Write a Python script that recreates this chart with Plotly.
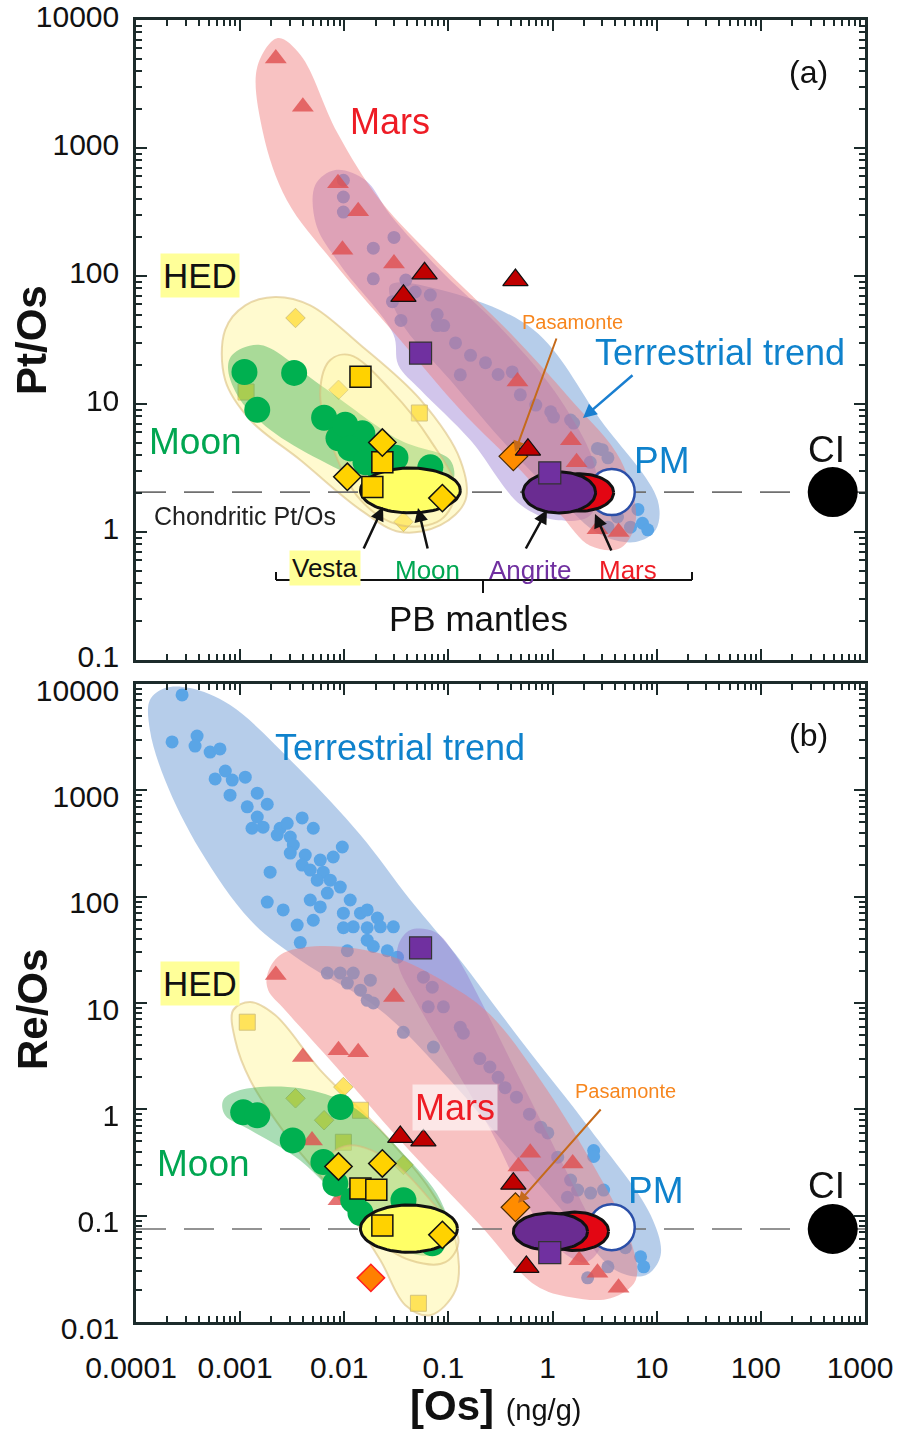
import math
import plotly.graph_objects as go

# ======================= DATA =======================
# ---- panel (a): Pt/Os vs [Os] ----
terr_a_os = [0.0098, 0.0098, 0.0098, 0.019, 0.030, 0.019, 0.039, 0.048, 0.067, 0.029, 0.078, 0.078, 0.090,
             0.035, 0.117, 0.163, 0.227, 0.30, 0.41, 0.49, 0.69, 0.96, 1.02, 1.49, 1.59, 2.7, 3.0, 2.3, 3.4,
             3.6, 5.3, 6.6, 7.3, 8.2, 5.6, 4.2, 3.4, 0.13]
terr_a_ptos = [560, 414, 316, 165, 200, 95, 93, 75, 71, 63, 50, 41, 41, 45, 30, 24, 21, 17, 17.8, 11.8,
               9.8, 8.7, 7.9, 7.5, 7.1, 4.5, 4.4, 3.5, 3.8, 1.7, 1.9, 1.5, 1.17, 1.04, 1.09, 1.31, 1.09, 16.9]
mars_a_os = [0.0022, 0.004, 0.0087, 0.0136, 0.0096, 0.030, 0.46, 1.5, 1.7, 2.7, 4.3]
mars_a_ptos = [5000, 2100, 530, 320, 160, 125, 15, 5.2, 3.5, 1.05, 1.0]
marsd_a_os = [0.059, 0.037, 0.44, 0.58]
marsd_a_ptos = [105, 70, 93, 4.4]
moon_a_os = [0.0011, 0.0033, 0.00146, 0.0064, 0.0088, 0.0149, 0.0102, 0.0114, 0.0186, 0.016, 0.022, 0.031, 0.039, 0.067]
moon_a_ptos = [17.8, 17.5, 9.0, 7.8, 5.4, 5.9, 6.9, 4.5, 4.2, 3.5, 3.05, 3.8, 2.5, 3.2]
hed_sq_a_os = [0.0143, 0.0232, 0.0186]
hed_sq_a_ptos = [16.3, 3.5, 2.25]
hed_di_a_os = [0.0232, 0.0107, 0.0875]
hed_di_a_ptos = [5.0, 2.7, 1.84]
hedf_sq_a_os = [0.00114, 0.0526]
hedf_sq_a_ptos = [12.4, 8.5]
hedf_di_a_os = [0.0034, 0.0088, 0.037]
hedf_di_a_ptos = [47, 12.9, 1.2]
ang_a_os = [0.054, 0.94]
ang_a_ptos = [25, 2.9]
pas_a_os = [0.42]
pas_a_ptos = [3.9]

# ---- panel (b): Re/Os vs [Os] ----
terr_b_os = [2.77e-4, 2.22e-4, 3.86e-4, 3.69e-4, 5.15e-4, 6.4e-4, 7.2e-4, 5.75e-4, 8.4e-4, 1.12e-3,
             8.0e-4, 1.46e-3, 1.17e-3, 1.82e-3, 1.46e-3, 1.30e-3, 1.66e-3, 2.42e-3, 2.83e-3, 3.94e-3,
             5.04e-3, 2.27e-3, 3.03e-3, 3.24e-3, 3.03e-3, 4.22e-3, 5.88e-3, 7.83e-3, 9.57e-3, 3.94e-3,
             4.71e-3, 6.28e-3, 5.5e-3, 7.34e-3, 6.87e-3, 9.15e-3, 1.94e-3, 1.82e-3, 2.59e-3, 4.71e-3,
             5.88e-3, 0.0114, 0.0098, 0.0143, 0.0166, 0.0208, 0.0122, 0.0166, 0.0222, 0.0296,
             0.0098, 3.53e-3, 5.04e-3, 0.0259, 0.0324, 0.0166, 0.019, 0.0107, 3.78e-3, 0.0575,
             0.070, 0.064, 0.0895, 6.87e-3, 9.15e-3, 0.0122, 0.0107, 0.0178, 0.0143, 0.019,
             0.0166, 0.130, 0.139, 0.0369, 0.0718, 0.20, 0.25, 0.30, 0.35, 0.45,
             0.60, 0.77, 0.90, 1.12, 1.49, 1.74, 2.32, 3.09, 1.39, 2.48,
             2.48, 7.0, 7.5, 3.4, 2.17, 5.0]
terr_b_reos = [7900, 2850, 3240, 2610, 2290, 2450, 1520, 1280, 1250, 1330,
               900, 940, 700, 740, 560, 440, 450, 440, 490, 550,
               440, 380, 364, 306, 257, 246, 221, 236, 293, 198,
               178, 170, 143, 143, 108, 123, 170, 89, 75, 93,
               80, 93, 70, 70, 75, 63, 52, 51, 52, 52,
               51, 54, 60, 31, 27, 39, 34, 31, 37, 17.5,
               14.1, 9.2, 9.2, 19.1, 19.1, 19.1, 15.4, 16.4, 13.2, 10.0,
               10.6, 5.9, 5.2, 5.3, 3.85, 3.0, 2.5, 2.0, 1.6, 1.3,
               0.9, 0.68, 0.60, 0.355, 0.216, 0.174, 0.163, 0.174, 0.149, 0.41,
               0.36, 0.041, 0.033, 0.033, 0.026, 0.05]
mars_b_os = [0.0022, 0.030, 0.004, 0.0088, 0.0136, 0.0049, 0.0088, 0.61, 0.47, 1.56, 1.8, 2.7, 4.3]
mars_b_reos = [18.3, 11.4, 3.1, 3.6, 3.45, 0.51, 0.14, 0.39, 0.29, 0.31, 0.038, 0.029, 0.021]
marsd_b_os = [0.0345, 0.0575, 0.42, 0.56]
marsd_b_reos = [0.55, 0.51, 0.20, 0.033]
moon_b_os = [0.00107, 0.00146, 0.0032, 0.0092, 0.0063, 0.0082, 0.0143, 0.0122, 0.037, 0.030, 0.070]
moon_b_reos = [0.94, 0.88, 0.51, 1.05, 0.32, 0.20, 0.106, 0.14, 0.14, 0.085, 0.055]
hed_sq_b_os = [0.0143, 0.0203, 0.0232]
hed_sq_b_reos = [0.18, 0.175, 0.081]
hed_di_b_os = [0.0088, 0.0232, 0.0875]
hed_di_b_reos = [0.29, 0.31, 0.066]
hedf_sq_b_os = [0.00117, 0.0143, 0.0098, 0.0515]
hedf_sq_b_reos = [6.6, 0.98, 0.49, 0.015]
hedf_di_b_os = [0.0034, 0.0098, 0.0064, 0.037]
hedf_di_b_reos = [1.27, 1.62, 0.79, 0.30]
other_b_os = [0.018]
other_b_reos = [0.026]
ang_b_os = [0.054, 0.94]
ang_b_reos = [33, 0.045]
pas_b_os = [0.44]
pas_b_reos = [0.12]

# reference reservoirs
pm_os = [3.7]
pm_ptos = [2.05]
pm_reos = [0.078]
ci_os = [490]
ci_ptos = [2.05]
ci_reos = [0.075]
chond_ptos = 2.05
chond_reos = 0.075

# PB mantle estimates (ranges): Mars, Angrite, Vesta/Moon
mantle_names = ["Mars", "Angrite", "Vesta-Moon"]
mantle_os_lo_a = [0.86, 0.52, 0.0143]
mantle_os_hi_a = [3.86, 2.59, 0.130]
mantle_ptos_lo = [1.45, 1.41, 1.41]
mantle_ptos_hi = [2.85, 2.94, 3.16]
mantle_os_lo_b = [0.77, 0.42, 0.0143]
mantle_os_hi_b = [3.45, 2.17, 0.122]
mantle_reos_lo = [0.047, 0.0473, 0.0453]
mantle_reos_hi = [0.108, 0.106, 0.126]

# field envelopes (outline of each compositional field)
env_terr_a_os = [0.0277, 0.0838, 0.656, 2.89, 10.2, 9.78, 6.28, 2.89, 1.19, 0.394, 0.104, 0.0345]
env_terr_a_ptos = [85, 78, 38, 7.5, 1.78, 1.04, 0.835, 0.95, 1.78, 4.4, 15.4, 45]
env_mars_a_os = [0.0023, 0.0038, 0.0086, 0.022, 0.084, 0.39, 1.5, 4.5, 6.3, 4.5, 2.3, 1.2, 0.49, 0.13, 0.0345, 0.0078, 0.0028, 0.00166, 0.00146]
env_mars_a_ptos = [7230, 5330, 1310, 392, 122, 36, 10.8, 3.65, 1.24, 0.75, 0.78, 1.36, 3.05, 9.0, 31.6, 129, 392, 1310, 4290]
env_ang_a_os = [0.00526, 0.00819, 0.0159, 0.0277, 0.0838, 0.353, 1.19, 2.59, 2.32, 1.07, 0.492, 0.163, 0.0538, 0.033, 0.0296, 0.00915, 0.00538]
env_ang_a_ptos = [514, 673, 562, 300, 111, 35.9, 10.8, 3.05, 1.36, 1.24, 1.63, 5.2, 12.9, 20.2, 35, 122, 250]
env_hed_a_os = [0.000718, 0.00112, 0.00217, 0.00471, 0.0143, 0.0538, 0.130, 0.146, 0.0838, 0.0345, 0.0143, 0.00378, 0.00125, 0.000718]
env_hed_a_ptos = [38, 59, 68.6, 59, 28.9, 10.8, 3.65, 1.78, 1.13, 1.0, 1.49, 3.65, 7.5, 15.4]
env_hedin_a_os = [0.00734, 0.0114, 0.0277, 0.0671, 0.117, 0.0838, 0.0345, 0.0143, 0.00734, 0.00588]
env_hedin_a_ptos = [22.1, 24.1, 12.9, 5.2, 2.13, 1.24, 1.13, 1.78, 5.2, 12.9]
env_moon_a_os = [0.000837, 0.00156, 0.00588, 0.0345, 0.104, 0.109, 0.0538, 0.0178, 0.00588, 0.00194, 0.0010, 0.000767]
env_moon_a_ptos = [24.1, 28.9, 14.1, 5.2, 3.65, 2.46, 2.25, 2.46, 3.65, 6.3, 10.8, 18.4]

env_terr_b_os = [1.36e-4, 1.90e-4, 3.30e-4, 8.02e-4, 3.78e-3, 0.0143, 0.0431, 0.130, 0.492, 2.32, 8.76, 10.9,
                 7.84, 4.03, 1.49, 0.394, 0.104, 0.0222, 3.78e-3, 1.25e-3, 4.12e-4, 1.90e-4, 1.36e-4]
env_terr_b_reos = [7070, 9170, 9170, 6340, 1550, 380, 92.9, 25.3, 4.48, 0.64, 0.101, 0.0425,
                   0.0275, 0.0307, 0.091, 0.41, 1.88, 8.57, 25.3, 60.2, 274, 1250, 3690]
env_mars_b_os = [0.00182, 0.00242, 0.00588, 0.0277, 0.104, 0.254, 0.767, 2.32, 5.62, 6.28, 3.61, 1.49, 0.686, 0.203, 0.0345, 0.00734, 0.00271, 0.00186]
env_mars_b_reos = [18.3, 28.2, 34.3, 27.6, 14.7, 7.7, 1.88, 0.33, 0.0588, 0.0247, 0.0167, 0.0171, 0.0222, 0.081, 0.51, 2.9, 8.57, 13.2]
env_ang_b_os = [0.033, 0.0431, 0.075, 0.117, 0.203, 0.394, 0.857, 1.86, 2.89, 2.08, 1.19, 0.614, 0.254, 0.104, 0.0482, 0.033]
env_ang_b_reos = [35.1, 48.5, 46.4, 28.2, 10.6, 2.9, 0.64, 0.14, 0.0527, 0.0365, 0.0473, 0.113, 0.64, 2.9, 10.6, 22.7]
env_hed_b_os = [0.000857, 0.00125, 0.00217, 0.00588, 0.0222, 0.0671, 0.117, 0.117, 0.0671, 0.0386, 0.0222, 0.00915, 0.00303, 0.00125, 0.000896]
env_hed_b_reos = [8.57, 10.2, 7.7, 2.34, 0.64, 0.174, 0.0588, 0.0199, 0.0116, 0.0144, 0.0381, 0.14, 0.51, 1.88, 4.48]
env_hedin_b_os = [0.00734, 0.0114, 0.0277, 0.0671, 0.125, 0.0936, 0.0431, 0.0178, 0.00915, 0.00701]
env_hedin_b_reos = [0.37, 0.46, 0.33, 0.14, 0.0588, 0.0365, 0.0381, 0.0655, 0.14, 0.24]
env_moon_b_os = [0.000687, 0.0010, 0.00378, 0.0114, 0.0345, 0.0838, 0.104, 0.0671, 0.0277, 0.0114, 0.00378, 0.00125, 0.000718]
env_moon_b_reos = [1.22, 1.52, 1.58, 1.09, 0.41, 0.14, 0.0588, 0.0425, 0.0527, 0.113, 0.33, 0.64, 0.88]

x_tick_vals = [1e-4, 1e-3, 1e-2, 1e-1, 1, 10, 100, 1000]
x_tick_text = ["0.0001", "0.001", "0.01", "0.1", "1", "10", "100", "1000"]
ya_tick_vals = [0.1, 1, 10, 100, 1000, 10000]
ya_tick_text = ["0.1", "1", "10", "100", "1000", "10000"]
yb_tick_vals = [0.01, 0.1, 1, 10, 100, 1000, 10000]
yb_tick_text = ["0.01", "0.1", "1", "10", "100", "1000", "10000"]

# ======================= STYLE =======================
FONT = "Liberation Sans, Arial, Helvetica, sans-serif"
RED = "#ee1c25"
GREEN = "#00a651"
BLUE = "#0f82cc"
PURPLE = "#7030a0"
ORANGE = "#f7861e"
AXC = "#1c2b2b"

C_TERR_ENV = "rgba(80,135,205,0.42)"
C_MARS_ENV = "rgba(240,120,120,0.45)"
C_ANG_ENV = "rgba(140,110,205,0.40)"
C_HED_ENV = "rgba(255,242,140,0.42)"
C_HED_LINE = "rgba(215,185,120,0.55)"
C_MOON_ENV = "rgba(40,170,70,0.40)"

fig = go.Figure()
PANELS = {"a": ("x", "y"), "b": ("x2", "y2")}


def add(tr, panel):
    xa, ya = PANELS[panel]
    tr.update(xaxis=xa, yaxis=ya, showlegend=False, hoverinfo="skip")
    fig.add_trace(tr)


def envelope(xs, ys, fill, panel, line="rgba(0,0,0,0)", lw=0):
    add(go.Scatter(x=xs + xs[:1], y=ys + ys[:1], mode="lines", fill="toself", fillcolor=fill,
                   line=dict(color=line, width=lw, shape="spline", smoothing=1.0)), panel)


def ellipse(xlo, xhi, ylo, yhi, n=80):
    cx = (math.log10(xlo) + math.log10(xhi)) / 2
    rx = (math.log10(xhi) - math.log10(xlo)) / 2
    cy = (math.log10(ylo) + math.log10(yhi)) / 2
    ry = (math.log10(yhi) - math.log10(ylo)) / 2
    xs = [10 ** (cx + rx * math.cos(2 * math.pi * i / n)) for i in range(n + 1)]
    ys = [10 ** (cy + ry * math.sin(2 * math.pi * i / n)) for i in range(n + 1)]
    return xs, ys


def markers(xs, ys, panel, symbol, size, color, lc="rgba(0,0,0,0)", lw=0, opacity=1.0):
    add(go.Scatter(x=xs, y=ys, mode="markers", opacity=opacity,
                   marker=dict(symbol=symbol, size=size, color=color, line=dict(color=lc, width=lw))), panel)


def draw_panel(p, terr, env_terr, env_ang, env_mars, env_hed, env_moon, env_hedin,
               mars, marsd, moon, hedsq, heddi, hedfsq, hedfdi, ang, pas, pm, ci, chond,
               m_os_lo, m_os_hi, m_r_lo, m_r_hi):
    envelope(env_terr[0], env_terr[1], C_TERR_ENV, p)
    markers(terr[0], terr[1], p, "circle", 13, "#4a9de6", opacity=0.85)
    envelope(env_ang[0], env_ang[1], C_ANG_ENV, p)
    envelope(env_mars[0], env_mars[1], C_MARS_ENV, p)
    envelope(env_hed[0], env_hed[1], C_HED_ENV, p, C_HED_LINE, 2)
    markers(hedfsq[0], hedfsq[1], p, "square", 16, "#ffde3c", "#c9b56a", 1, opacity=0.8)
    markers(hedfdi[0], hedfdi[1], p, "diamond", 15, "#ffde3c", "#c9b56a", 1, opacity=0.8)
    envelope(env_moon[0], env_moon[1], C_MOON_ENV, p)
    envelope(env_hedin[0], env_hedin[1], "rgba(255,245,160,0.35)", p, C_HED_LINE, 2)
    add(go.Scatter(x=[1e-4, 1e3], y=[chond, chond], mode="lines",
                   line=dict(color="#707070", width=1.6, dash="30px,18px")), p)
    markers(mars[0], mars[1], p, "triangle-up", 19, "#df4f4f", opacity=0.8)
    markers(moon[0], moon[1], p, "circle", 26, "#00b050")
    # PB mantle ellipses and reference reservoirs
    markers(pm[0], pm[1], p, "circle", 46, "white", "#2b4fa8", 2.5)
    fills = ["#e30613", "#6a2c91", "#ffff66"]
    for i in range(3):
        ex, ey = ellipse(m_os_lo[i], m_os_hi[i], m_r_lo[i], m_r_hi[i])
        add(go.Scatter(x=ex, y=ey, mode="lines", fill="toself", fillcolor=fills[i],
                       line=dict(color="#111111", width=3)), p)
    markers(hedsq[0], hedsq[1], p, "square", 21, "#ffd200", "#111111", 1.5)
    markers(heddi[0], heddi[1], p, "diamond", 21, "#ffd200", "#111111", 1.5)
    markers(ang[0], ang[1], p, "square", 22, PURPLE, "#333333", 1.2)
    markers(pas[0], pas[1], p, "diamond", 22, "#ff8c00", "#4a2a00", 1.2)
    markers(marsd[0], marsd[1], p, "triangle-up", 22, "#c00000", "#111111", 1.2)
    markers(ci[0], ci[1], p, "circle", 50, "#000000")


draw_panel("a", (terr_a_os, terr_a_ptos), (env_terr_a_os, env_terr_a_ptos), (env_ang_a_os, env_ang_a_ptos),
           (env_mars_a_os, env_mars_a_ptos), (env_hed_a_os, env_hed_a_ptos), (env_moon_a_os, env_moon_a_ptos),
           (env_hedin_a_os, env_hedin_a_ptos), (mars_a_os, mars_a_ptos), (marsd_a_os, marsd_a_ptos),
           (moon_a_os, moon_a_ptos), (hed_sq_a_os, hed_sq_a_ptos), (hed_di_a_os, hed_di_a_ptos),
           (hedf_sq_a_os, hedf_sq_a_ptos), (hedf_di_a_os, hedf_di_a_ptos), (ang_a_os, ang_a_ptos),
           (pas_a_os, pas_a_ptos), (pm_os, pm_ptos), (ci_os, ci_ptos), chond_ptos,
           mantle_os_lo_a, mantle_os_hi_a, mantle_ptos_lo, mantle_ptos_hi)

draw_panel("b", (terr_b_os, terr_b_reos), (env_terr_b_os, env_terr_b_reos), (env_ang_b_os, env_ang_b_reos),
           (env_mars_b_os, env_mars_b_reos), (env_hed_b_os, env_hed_b_reos), (env_moon_b_os, env_moon_b_reos),
           (env_hedin_b_os, env_hedin_b_reos), (mars_b_os, mars_b_reos), (marsd_b_os, marsd_b_reos),
           (moon_b_os, moon_b_reos), (hed_sq_b_os, hed_sq_b_reos), (hed_di_b_os, hed_di_b_reos),
           (hedf_sq_b_os, hedf_sq_b_reos), (hedf_di_b_os, hedf_di_b_reos), (ang_b_os, ang_b_reos),
           (pas_b_os, pas_b_reos), (pm_os, pm_reos), (ci_os, ci_reos), chond_reos,
           mantle_os_lo_b, mantle_os_hi_b, mantle_reos_lo, mantle_reos_hi)
markers(other_b_os, other_b_reos, "b", "diamond", 21, "#ff8000", "#ff2020", 1.5)

# ======================= LAYOUT =======================
L, R, T, B = 136, 33, 20, 110
W, H = 898, 1432
PW, PH = W - L - R, H - T - B


def P(px, py):
    return (px - L) / PW, (H - B - py) / PH


def minor_vals(k0, k1):
    return [m * 10 ** k for k in range(k0, k1) for m in range(2, 10)]


def axis_common():
    return dict(type="log", showline=True, linewidth=2.5, linecolor=AXC, mirror="allticks",
                ticks="inside", ticklen=11, tickwidth=2, tickcolor=AXC, showgrid=False, zeroline=False,
                automargin=False, ticklabeloverflow="allow",
                tickfont=dict(family=FONT, size=30, color="#111111"))


xa = axis_common()
xa.update(range=[-4, 3], tickvals=x_tick_vals, ticktext=x_tick_text, anchor="y", domain=[0, 1],
          showticklabels=False,
          minor=dict(tickmode="array", tickvals=minor_vals(-4, 3), ticks="inside", ticklen=6,
                     tickwidth=1.5, tickcolor=AXC, showgrid=False))
xb = dict(xa)
xb.update(anchor="y2", showticklabels=True, ticklabelstandoff=17, ticklabelshift=-5)
ya = axis_common()
ya.update(range=[-1, 4], tickvals=ya_tick_vals, ticktext=ya_tick_text, anchor="x",
          domain=[(H - B - 660) / PH, 1], ticklabelstandoff=8, ticklabelshift=-4,
          minor=dict(tickmode="array", tickvals=minor_vals(-1, 4), ticks="inside", ticklen=6,
                     tickwidth=1.5, tickcolor=AXC, showgrid=False))
yb = axis_common()
yb.update(range=[-2, 4], tickvals=yb_tick_vals, ticktext=yb_tick_text, anchor="x2",
          domain=[0, (H - B - 684) / PH], ticklabelstandoff=8, ticklabelshift=6,
          minor=dict(tickmode="array", tickvals=minor_vals(-2, 4), ticks="inside", ticklen=6,
                     tickwidth=1.5, tickcolor=AXC, showgrid=False))

fig.update_layout(width=W, height=H, margin=dict(l=L, r=R, t=T, b=B, autoexpand=False),
                  paper_bgcolor="white", plot_bgcolor="white",
                  xaxis=xa, xaxis2=xb, yaxis=ya, yaxis2=yb,
                  font=dict(family=FONT), showlegend=False)

ann = []


def text(s, px, py, size, color="#111111", bg=None, angle=0):
    x, y = P(px, py)
    d = dict(text=s, x=x, y=y, xref="paper", yref="paper", showarrow=False, xanchor="center",
             yanchor="middle", font=dict(family=FONT, size=size, color=color), textangle=angle)
    if bg:
        d.update(bgcolor=bg, borderpad=2)
    ann.append(d)


def arrow(hx, hy, tx, ty, color, width=2.5):
    x, y = P(hx, hy)
    ann.append(dict(text="", x=x, y=y, xref="paper", yref="paper", showarrow=True, ax=tx - hx, ay=ty - hy,
                    arrowhead=2, arrowsize=1.1, arrowwidth=width, arrowcolor=color))


# panel (a) labels
text("Mars", 390, 122, 36, RED)
text("(a)", 808, 72, 32)
text("HED", 200, 275, 35, bg="#ffff99")
text("Moon", 195, 442, 37, GREEN)
text("Chondritic Pt/Os", 245, 516, 25, "#222222")
text("Pasamonte", 572, 322, 20, ORANGE)
text("Terrestrial trend", 720, 353, 36, BLUE)
text("PM", 662, 460, 37, BLUE)
text("CI", 826, 450, 37)
text("Vesta", 325, 568, 26, bg="#ffff99")
text("Moon", 427, 570, 26, GREEN)
text("Angrite", 530, 570, 26, PURPLE)
text("Mars", 628, 570, 26, RED)
text("PB mantles", 478, 618, 35)
arrow(515, 452, 557, 337, "#c56a1a", 2)
arrow(583, 418, 634, 374, "#1a7fd0", 2.5)
arrow(383, 507, 363, 550, "#111111")
arrow(418, 508, 428, 550, "#111111")
arrow(547, 510, 525, 550, "#111111")
arrow(595, 514, 612, 552, "#111111")

# panel (b) labels
text("Terrestrial trend", 400, 748, 36, BLUE)
text("(b)", 808, 735, 32)
text("HED", 200, 983, 35, bg="#ffff99")
text("Mars", 455, 1107, 36, RED, bg="rgba(255,255,255,0.6)")
text("Moon", 203, 1163, 37, GREEN)
text("Pasamonte", 625, 1091, 20, ORANGE)
text("PM", 656, 1190, 37, BLUE)
text("CI", 826, 1185, 37)
arrow(518, 1203, 602, 1108, "#c56a1a", 2)

# axis titles
text("<b>Pt/Os</b>", 32, 340, 42, angle=-90)
text("<b>Re/Os</b>", 32, 1010, 42, angle=-90)
text("<b>[Os]</b> <span style='font-size:29px'>(ng/g)</span>", 495, 1405, 42)

fig.update_layout(annotations=ann)

# PB mantles bracket
br = []
for (x0, y0, x1, y1) in [(276, 572, 276, 580), (276, 580, 692, 580), (692, 580, 692, 572), (483, 580, 483, 593)]:
    a0, b0 = P(x0, y0)
    a1, b1 = P(x1, y1)
    br.append(dict(type="line", xref="paper", yref="paper", x0=a0, y0=b0, x1=a1, y1=b1,
                   line=dict(color="#111111", width=2)))
fig.update_layout(shapes=br)

fig.write_html("out.html", config={"displayModeBar": False},
               post_script="document.documentElement.style.margin='0';document.body.style.margin='0';"
                           "document.body.style.padding='0';document.body.style.overflow='hidden';")
